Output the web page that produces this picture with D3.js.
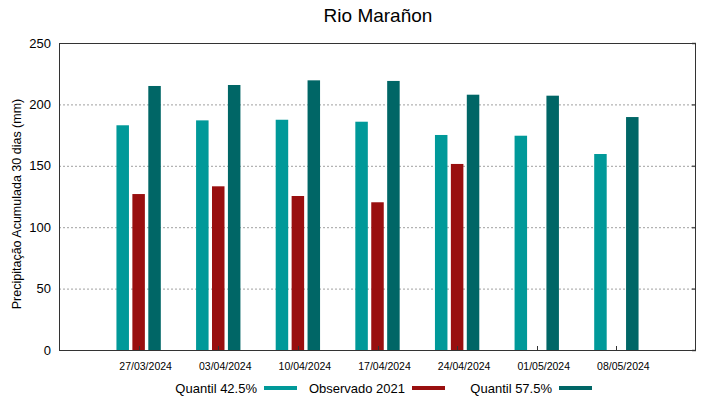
<!DOCTYPE html>
<meta charset="utf-8">
<head>
<script src="https://d3js.org/d3.v7.min.js"></script>
<style>
body { margin: 0; background: #fff; }
svg { font-family: "Liberation Sans", Arial, sans-serif; }
</style>
</head>
<body>
<script>
    // chart data
    const dates = ["27/03/2024", "03/04/2024", "10/04/2024", "17/04/2024", "24/04/2024", "01/05/2024", "08/05/2024"]
    const q425 = [183.0, 187.0, 187.5, 185.9, 175.1, 174.5, 159.6]
    const obs2021 = [127.0, 133.3, 125.4, 120.3, 151.5, null, null]
    const q575 = [215.0, 215.8, 219.6, 219.1, 207.9, 207.1, 189.7]
    const yTicks = [0, 50, 100, 150, 200, 250]

    const seriesNames = ["Quantil 42.5%", "Observado 2021", "Quantil 57.5%"]
    const colors = ["#009999", "#990f0f", "#006666"]
    const series = [q425, obs2021, q575]

    width = 719
    height = 399
    margin = ({top: 43, right: 23, bottom: 49, left: 59})

    var svg = d3.select("body").append("svg")
      .attr("width", width)
      .attr("height", height)

    // x in "group units", like a gnuplot histogram: groups at 0..n-1, range -1..n
    x = d3.scaleLinear()
      .domain([-1, dates.length])
      .range([margin.left, width - margin.right])

    y = d3.scaleLinear()
      .domain([0, 250])
      .range([height - margin.bottom, margin.top])

    const offset = 0.2, barW = 0.157

    // grid
    svg.append("g")
      .selectAll("line")
      .data(yTicks.filter(d => d > 0 && d < 250))
      .join("line")
        .attr("x1", margin.left)
        .attr("x2", width - margin.right)
        .attr("y1", d => y(d) + 0.5)
        .attr("y2", d => y(d) + 0.5)
        .attr("stroke", "#a0a0a0")
        .attr("stroke-width", 1)
        .attr("stroke-dasharray", "2,2")

    // bars
    series.forEach((s, k) => {
      svg.append("g")
        .selectAll("rect")
        .data(s.map((v, i) => ({i: i, v: v})).filter(d => d.v != null))
        .join("rect")
          .attr("x", d => x(d.i + (k - 1) * offset - barW / 2))
          .attr("width", x(barW) - x(0))
          .attr("y", d => y(d.v))
          .attr("height", d => y(0) - y(d.v))
          .attr("fill", colors[k])
    })

    // x ticks (inward, small)
    svg.append("g")
      .selectAll("line")
      .data(dates.map((d, i) => i))
      .join("line")
        .attr("x1", d => Math.round(x(d)) + 0.5)
        .attr("x2", d => Math.round(x(d)) + 0.5)
        .attr("y1", y(0))
        .attr("y2", y(0) - 4)
        .attr("stroke", "#333")

    // y ticks on both sides, inward
    svg.append("g")
      .selectAll("line")
      .data(yTicks)
      .join("line")
        .attr("x1", width - margin.right)
        .attr("x2", width - margin.right - 4)
        .attr("y1", d => y(d) + 0.5)
        .attr("y2", d => y(d) + 0.5)
        .attr("stroke", "#555")
        .attr("stroke-width", 1.5)

    // frame
    svg.append("rect")
      .attr("x", margin.left + 0.5)
      .attr("y", margin.top + 0.5)
      .attr("width", width - margin.right - margin.left - 1)
      .attr("height", height - margin.bottom - margin.top)
      .attr("fill", "none")
      .attr("stroke", "#333")
      .attr("stroke-width", 1)

    // y tick labels
    svg.append("g")
      .selectAll("text")
      .data(yTicks)
      .join("text")
        .attr("x", margin.left - 8)
        .attr("y", d => y(d))
        .attr("dy", "0.35em")
        .attr("text-anchor", "end")
        .attr("font-size", 13)
        .text(d => d)

    // x tick labels
    svg.append("g")
      .selectAll("text")
      .data(dates)
      .join("text")
        .attr("x", (d, i) => x(i) + 7)
        .attr("y", y(0) + 20)
        .attr("text-anchor", "middle")
        .attr("font-size", 10.5)
        .text(d => d)

    // y axis title
    svg.append("text")
      .attr("transform", "translate(21,204) rotate(-90)")
      .attr("text-anchor", "middle")
      .attr("font-size", 12.5)
      .text("Precipitação Acumulada 30 dias (mm)")

    // title
    svg.append("text")
      .attr("x", 378)
      .attr("y", 22)
      .attr("text-anchor", "middle")
      .attr("font-size", 19)
      .text("Rio Marañon")

    // legend
    const legX = [264, 412, 559]
    const legend = svg.append("g")
      .selectAll("g")
      .data(seriesNames)
      .join("g")
        .attr("transform", (d, i) => `translate(${legX[i]},388)`)

    legend.append("rect")
      .attr("x", 0)
      .attr("y", -2)
      .attr("width", 33)
      .attr("height", 4)
      .attr("fill", (d, i) => colors[i])

    legend.append("text")
      .attr("x", -7)
      .attr("y", 0)
      .attr("dy", "0.35em")
      .attr("text-anchor", "end")
      .attr("font-size", 13)
      .text(d => d)
</script>
</body>
